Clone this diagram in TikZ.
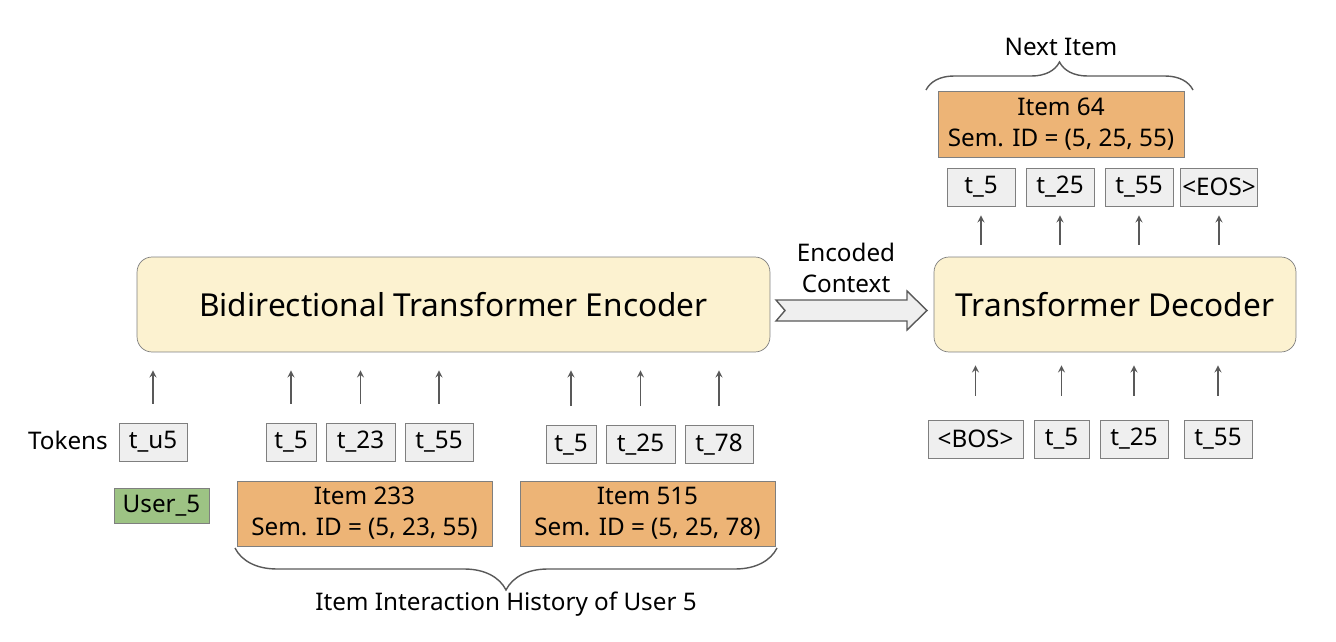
\documentclass[tikz,border=0pt]{standalone}
\usepackage{fontspec}
\setmainfont{Noto Sans}
\usepackage{xcolor}
\usetikzlibrary{arrows.meta,decorations.pathreplacing,positioning}
\definecolor{encfill}{HTML}{FCF2D0}
\definecolor{itemfill}{HTML}{EDB476}
\definecolor{userfill}{HTML}{9DC384}
\definecolor{tokfill}{HTML}{EFEFEF}
\definecolor{edge}{HTML}{7F7F7F}

\begin{document}
\begin{tikzpicture}[>=stealth,x=0.02cm,y=-0.02cm,
  tok/.style={draw=edge,fill=tokfill,minimum height=0.76cm,inner sep=0pt,font=\fontsize{13.8}{16}\selectfont},
  item/.style={draw=edge,fill=itemfill,minimum height=1.3cm,inner sep=0pt,align=center,font=\fontsize{13.8}{17.5}\selectfont},
  block/.style={draw=edge,fill=encfill,rounded corners=0.3cm,minimum height=1.9cm,inner sep=0pt,font=\fontsize{18}{21}\selectfont},
  up/.style={->,draw=edge!70!black,line width=0.8pt},
  brace/.style={decorate,decoration={brace,amplitude=#1},draw=edge!70!black,line width=0.8pt}]
\useasboundingbox (0,0) rectangle (1336,642);
% encoder / decoder
\node[block,minimum width=12.66cm] (enc) at (453.5,304.5) {Bidirectional Transformer Encoder};
\node[block,minimum width=7.24cm] (dec) at (1115,304.5) {Transformer Decoder};
\draw[fill=tokfill,draw=edge!70!black,line width=0.8pt](776,300)--(907,300)--(907,291)--(927,310.5)--(907,330)--(907,321)--(776,321)--(785,310.5)--cycle;
\node[align=center,font=\fontsize{13.8}{17.5}\selectfont] (ctx) at (846,268) {Encoded\\Context};
% encoder input
\node[font=\fontsize{13.8}{16}\selectfont,anchor=east] (toklab) at (114,440) {Tokens};
\node[tok,minimum width=1.36cm] (u5) at (153,442) {t\_u5};
\node[tok,minimum width=1.0cm] (a1) at (291,442) {t\_5};
\node[tok,minimum width=1.38cm] (a2) at (360.5,442) {t\_23};
\node[tok,minimum width=1.36cm] (a3) at (439,442) {t\_55};
\node[tok,minimum width=1.0cm] (b1) at (571,444.5) {t\_5};
\node[tok,minimum width=1.38cm] (b2) at (640.5,444.5) {t\_25};
\node[tok,minimum width=1.36cm] (b3) at (719,444.5) {t\_78};
\node[draw=edge,fill=userfill,minimum width=1.9cm,minimum height=0.7cm,inner sep=0pt,font=\fontsize{13.8}{16}\selectfont] (user) at (161.5,505.5) {User\_5};
\node[item,minimum width=5.1cm] (i233) at (364.5,513.5) {Item 233\\Sem. ID = (5, 23, 55)};
\node[item,minimum width=5.1cm] (i515) at (647.5,513.5) {Item 515\\Sem. ID = (5, 25, 78)};
\foreach \t in {u5,a1,a2,a3,b1,b2,b3}
  \draw[up,shorten <=0.38cm,shorten >=0.36cm] (\t.north) -- (\t.north |- enc.south);
\draw[brace=0.84cm] (777,548) -- (235,548);
\node[font=\fontsize{13.8}{16}\selectfont] (hist) at (506,604) {Item Interaction History of User 5};
% decoder input
\node[tok,minimum width=1.9cm] (bos) at (975.5,439) {<BOS>};
\node[tok,minimum width=1.1cm] (c1) at (1061.5,439) {t\_5};
\node[tok,minimum width=1.36cm] (c2) at (1134,439) {t\_25};
\node[tok,minimum width=1.36cm] (c3) at (1218,439) {t\_55};
\foreach \t in {bos,c1,c2,c3}
  \draw[up,shorten <=0.48cm,shorten >=0.26cm] (\t.north) -- (\t.north |- dec.south);
% decoder output
\node[tok,minimum width=1.36cm] (d1) at (981,187) {t\_5};
\node[tok,minimum width=1.36cm] (d2) at (1060,187) {t\_25};
\node[tok,minimum width=1.36cm] (d3) at (1139,187) {t\_55};
\node[tok,minimum width=1.54cm] (eos) at (1219,187) {<EOS>};
\foreach \t in {d1,d2,d3,eos}
  \draw[up,shorten <=0.24cm,shorten >=0.18cm] (\t.south |- dec.north) -- (\t.south);
\node[item,minimum width=4.92cm,minimum height=1.32cm] (i64) at (1061,124) {Item 64\\Sem. ID = (5, 25, 55)};
\draw[brace=0.56cm] (926,90) -- (1193,90);
\node[font=\fontsize{13.8}{16}\selectfont] (next) at (1061,47) {Next Item};
\end{tikzpicture}
\end{document}
